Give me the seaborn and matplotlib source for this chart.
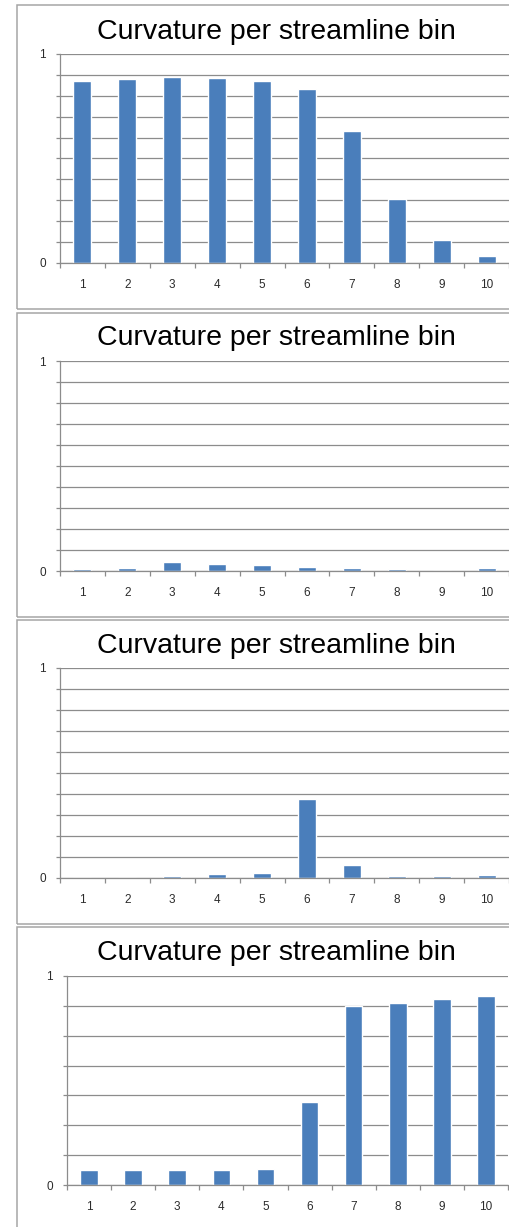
import matplotlib
matplotlib.use("Agg")
import matplotlib.pyplot as plt
import seaborn as sns
import numpy as np
import pandas as pd
from matplotlib.patches import Rectangle
from matplotlib.ticker import FixedLocator

# ---- data ----
bins = ["1", "2", "3", "4", "5", "6", "7", "8", "9", "10"]
panel1_values = [0.871, 0.881, 0.890, 0.885, 0.871, 0.831, 0.632, 0.306, 0.111, 0.035]
panel2_values = [0.010, 0.016, 0.045, 0.035, 0.029, 0.019, 0.014, 0.010, 0.000, 0.016]
panel3_values = [0.000, 0.000, 0.008, 0.019, 0.024, 0.377, 0.064, 0.008, 0.008, 0.014]
panel4_values = [0.070, 0.070, 0.070, 0.070, 0.075, 0.397, 0.858, 0.872, 0.888, 0.903]
y_tick_values = [0, 1]
y_tick_labels = ["0", "1"]
title_text = "Curvature per streamline bin"

sns.set_theme(style="white")
plt.rcParams['font.family'] = ['Liberation Sans', 'DejaVu Sans']

W, H = 509, 1227
fig = plt.figure(figsize=(W / 100, H / 100), dpi=100)


def box(l, t, r, b):
    return [l / W, 1 - b / H, (r - l) / W, (b - t) / H]


BAR = "#4a7ebb"
GRID = "#8c8c8c"
FRAME = "#a6a6a6"
LABEL = "#2b2b2b"

panels = [
    # values, axes box (l,t,r,b), title y, grid divisions, frame (t,b)
    (panel1_values, (60, 54, 509, 263), 32, 10, (5, 309)),
    (panel2_values, (60, 361, 509, 571), 338, 10, (313, 617)),
    (panel3_values, (60, 668, 509, 878), 646, 10, (620, 924)),
    (panel4_values, (67, 976, 508, 1185), 953, 7, (927, 1240)),
]

for vals, ab, ty, ndiv, (ft, fb) in panels:
    # panel frame
    fig.patches.append(Rectangle((17 / W, 1 - fb / H), 700 / W, (fb - ft) / H,
                                 transform=fig.transFigure, fill=False,
                                 ec=FRAME, lw=1.1, zorder=0))
    fig.text(276 / W, 1 - ty / H, title_text, ha='center', va='center',
             fontsize=20.5, color='black')

    ax = fig.add_axes(box(*ab))
    ax.set_facecolor('none')
    df = pd.DataFrame({"bin": bins, "value": vals})
    sns.barplot(data=df, x="bin", y="value", order=bins, color=BAR,
                saturation=1, width=0.4, ax=ax)
    ax.set_xlim(-0.5, 9.5)
    ax.set_ylim(0, 1)
    ax.set_xlabel("")
    ax.set_ylabel("")

    ax.set_yticks(y_tick_values)
    ax.set_yticklabels(y_tick_labels)
    ax.yaxis.set_minor_locator(FixedLocator(np.linspace(0, 1, ndiv + 1)))
    ax.grid(True, which='both', axis='y', color=GRID, lw=0.9)
    ax.set_axisbelow(True)
    ax.tick_params(axis='y', which='both', left=True, length=3, width=0.9,
                   color=GRID, direction='out')
    ax.tick_params(axis='y', which='major', labelsize=8.5, labelcolor=LABEL, pad=7)

    ax.set_xticks(range(len(bins)))
    ax.set_xticklabels(bins)
    ax.set_xticks(np.arange(-0.5, len(bins), 1.0), minor=True)
    ax.tick_params(axis='x', which='major', length=0, labelsize=8.5,
                   labelcolor=LABEL, pad=11.5)
    ax.tick_params(axis='x', which='minor', bottom=True, length=3.5, width=0.9,
                   color=GRID, direction='out')

    for s in ['top', 'right']:
        ax.spines[s].set_visible(False)
    for s in ['left', 'bottom']:
        ax.spines[s].set_color(GRID)
        ax.spines[s].set_linewidth(0.9)

fig.savefig("out.png", dpi=100)
